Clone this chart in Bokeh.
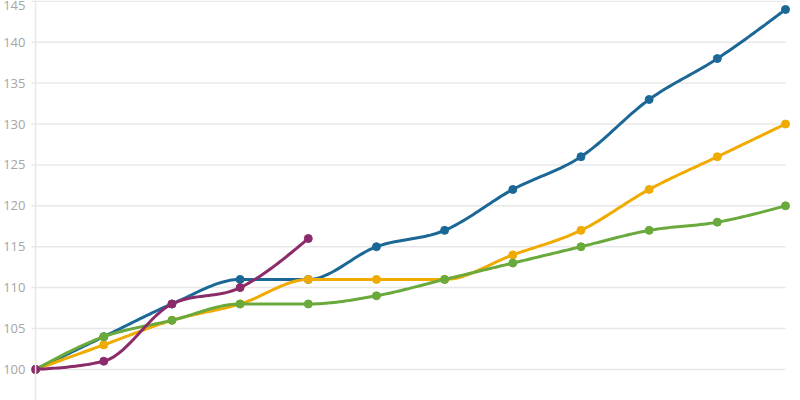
import numpy as np
from bokeh.plotting import figure
from bokeh.models import Range1d, FixedTicker, Span
from bokeh.embed import file_html
from bokeh.resources import INLINE

# Series values, one per period (index 0..11)
periods = list(range(12))
blue_vals = [100, 104, 108, 111, 111, 115, 117, 122, 126, 133, 138, 144]
yellow_vals = [100, 103, 106, 108, 111, 111, 111, 114, 117, 122, 126, 130]
green_vals = [100, 104, 106, 108, 108, 109, 111, 113, 115, 117, 118, 120]
purple_vals = [100, 101, 108, 110, 116]
y_ticks = [100, 105, 110, 115, 120, 125, 130, 135, 140, 145]

COLORS = {
    "blue": "#1b6896",
    "yellow": "#f0ab00",
    "green": "#6aa93b",
    "purple": "#8b2b69",
}
GRID = "#e8e8e8"
LABEL = "#a6a6a6"


def monotone_curve(xs, ys, n=24):
    """Monotone cubic (monotoneX-style) interpolation through the points."""
    xs = np.asarray(xs, float)
    ys = np.asarray(ys, float)
    m = len(xs)
    h = np.diff(xs)
    s = np.diff(ys) / h
    t = np.zeros(m)
    for i in range(1, m - 1):
        p = (s[i - 1] * h[i] + s[i] * h[i - 1]) / (h[i - 1] + h[i])
        t[i] = (np.sign(s[i - 1]) + np.sign(s[i])) * min(abs(s[i - 1]), abs(s[i]), 0.5 * abs(p))
    t[0] = (3 * s[0] - t[1]) / 2 if m > 2 else s[0]
    t[-1] = (3 * s[-1] - t[-2]) / 2 if m > 2 else s[-1]
    out_x, out_y = [xs[0]], [ys[0]]
    u = np.linspace(0, 1, n + 1)[1:]
    for i in range(m - 1):
        dx = h[i] / 3
        p0 = (xs[i], ys[i])
        p1 = (xs[i] + dx, ys[i] + dx * t[i])
        p2 = (xs[i + 1] - dx, ys[i + 1] - dx * t[i + 1])
        p3 = (xs[i + 1], ys[i + 1])
        a = (1 - u) ** 3
        b = 3 * (1 - u) ** 2 * u
        c = 3 * (1 - u) * u ** 2
        d = u ** 3
        out_x.extend(a * p0[0] + b * p1[0] + c * p2[0] + d * p3[0])
        out_y.extend(a * p0[1] + b * p1[1] + c * p2[1] + d * p3[1])
    return out_x, out_y


last = periods[-1]
p = figure(
    width=800, height=400,
    x_range=Range1d(-0.06, last + 0.22),
    y_range=Range1d(96.2, 145.1),
    output_backend="svg", toolbar_location=None,
    min_border_left=31, min_border_right=0, min_border_top=0, min_border_bottom=0,
)
p.outline_line_color = None
p.background_fill_color = "white"
p.xaxis.visible = False
p.xgrid.visible = False
p.ygrid.visible = False

ax = p.yaxis[0]
ax.ticker = FixedTicker(ticks=y_ticks)
ax.axis_line_color = None
ax.major_tick_line_color = None
ax.minor_tick_line_color = None
ax.major_label_standoff = 0
ax.major_label_text_color = LABEL
ax.major_label_text_font = "Open Sans"
ax.major_label_text_font_size = "13px"

# horizontal gridlines ending at the last period
p.segment(x0=[-0.1] * len(y_ticks), x1=[last] * len(y_ticks),
          y0=y_ticks, y1=y_ticks, line_color=GRID, line_width=1.5)
p.add_layout(Span(location=0, dimension="height", line_color=GRID, line_width=1.5))

series = [
    ("blue", blue_vals),
    ("yellow", yellow_vals),
    ("green", green_vals),
    ("purple", purple_vals),
]
for name, vals in series:
    xs = periods[:len(vals)]
    cx, cy = monotone_curve(xs, vals)
    p.line(cx, cy, line_color=COLORS[name], line_width=3, line_join="round", line_cap="round")
    p.scatter(xs, vals, size=8, fill_color=COLORS[name], line_color=COLORS[name])

open("out.html", "w").write(file_html(p, INLINE))
